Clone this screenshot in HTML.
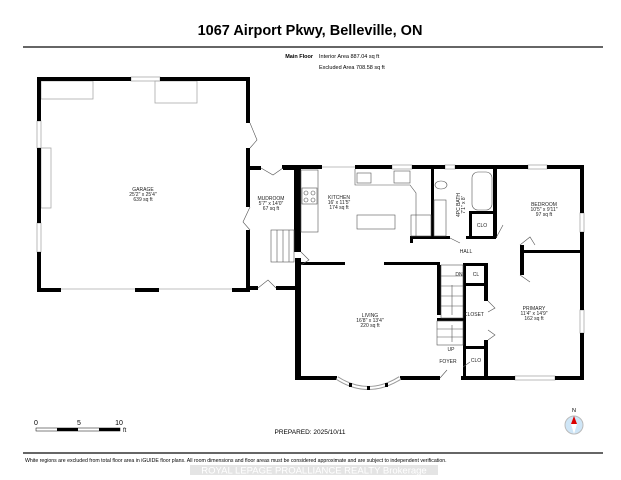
<!DOCTYPE html>
<html><head><meta charset="utf-8"><style>
html,body{margin:0;padding:0;background:#fff;}
svg{display:block;font-family:"Liberation Sans",sans-serif;}
.l{font-size:5px;text-anchor:middle;fill:#222;}
</style></head><body>
<svg width="621" height="480" viewBox="0 0 621 480" xmlns="http://www.w3.org/2000/svg">
<text x="310" y="35" text-anchor="middle" font-size="14.5" font-weight="bold">1067 Airport Pkwy, Belleville, ON</text>
<rect x="23" y="46" width="580" height="2" fill="#666"/>
<text x="313" y="58" font-size="5.5" font-weight="bold" text-anchor="end">Main Floor</text>
<text x="319" y="58" font-size="5.5">Interior Area 887.04 sq ft</text>
<text x="319" y="69" font-size="5.5">Excluded Area 708.58 sq ft</text>

<g fill="none" stroke="#aaa" stroke-width="0.8">
<rect x="131" y="77" width="29" height="4"/>
<rect x="37" y="121" width="4" height="27"/>
<rect x="37" y="223" width="4" height="29"/>
<rect x="41" y="81" width="52" height="18"/>
<rect x="155" y="81" width="42" height="22"/>
<rect x="41" y="148" width="10" height="60"/>
<line x1="61" y1="289" x2="232" y2="289"/>
<rect x="392" y="165" width="20" height="4"/>
<rect x="445" y="165" width="10" height="4"/>
<rect x="528" y="165" width="19" height="4"/>
<rect x="580" y="213" width="4" height="19"/>
<rect x="580" y="310" width="4" height="23"/>
<rect x="515" y="376" width="40" height="4"/>
<line x1="322" y1="167" x2="355" y2="167"/>
</g>
<g fill="#000">
<rect x="37" y="77" width="94" height="4"/><rect x="160" y="77" width="90" height="4"/>
<rect x="37" y="77" width="4" height="44"/><rect x="37" y="148" width="4" height="75"/><rect x="37" y="252" width="4" height="40"/>
<rect x="246" y="77" width="4" height="46"/><rect x="246" y="148" width="4" height="59"/><rect x="246" y="230" width="4" height="62"/>
<rect x="37" y="288" width="24" height="4"/><rect x="135" y="288" width="24" height="4"/><rect x="232" y="288" width="18" height="4"/>
<rect x="250" y="166" width="11" height="4"/><rect x="283" y="166" width="17" height="4"/>
<rect x="294" y="166" width="7" height="86"/><rect x="295" y="258" width="6" height="122"/>
<rect x="250" y="286" width="8" height="4"/><rect x="276" y="286" width="20" height="4"/>
<rect x="282" y="165" width="40" height="4"/><rect x="355" y="165" width="37" height="4"/><rect x="412" y="165" width="33" height="4"/><rect x="455" y="165" width="73" height="4"/><rect x="547" y="165" width="37" height="4"/>
<rect x="580" y="165" width="4" height="48"/><rect x="580" y="232" width="4" height="78"/><rect x="580" y="333" width="4" height="47"/>
<rect x="297" y="376" width="40" height="4"/><rect x="400" y="376" width="40" height="4"/><rect x="461" y="376" width="54" height="4"/><rect x="555" y="376" width="29" height="4"/>
<rect x="297" y="262" width="48" height="3"/><rect x="384" y="262" width="56" height="3"/>
<rect x="431" y="165" width="3" height="73"/><rect x="411" y="236" width="39" height="3"/><rect x="410" y="236" width="3" height="7"/>
<rect x="469" y="211" width="3" height="27"/><rect x="469" y="211" width="28" height="3"/><rect x="466" y="236" width="30" height="3"/>
<rect x="493" y="165" width="4" height="73"/>
<rect x="523" y="250" width="60" height="3"/><rect x="520" y="245" width="4" height="30"/>
<rect x="437" y="265" width="4" height="50"/><rect x="463" y="263" width="3" height="117"/>
<rect x="463" y="263" width="24" height="3"/><rect x="466" y="283" width="20" height="3"/>
<rect x="484" y="263" width="4" height="38"/><rect x="484" y="340" width="4" height="40"/>
<rect x="466" y="346" width="20" height="3"/>
<rect x="437" y="318" width="29" height="3"/>
</g>
<path d="M337 378 Q368 398 400 378" fill="none" stroke="#999" stroke-width="4"/>
<path d="M337 378 Q368 398 400 378" fill="none" stroke="#fff" stroke-width="2"/>
<rect x="349" y="383" width="3" height="4"/><rect x="367" y="386" width="3" height="4"/><rect x="385" y="383" width="3" height="4"/>
<g fill="none" stroke="#555" stroke-width="0.6">
<rect x="271" y="230" width="23" height="32"/>
<line x1="277" y1="230" x2="277" y2="262"/><line x1="283" y1="230" x2="283" y2="262"/><line x1="289" y1="230" x2="289" y2="262"/>
<rect x="441" y="265" width="22" height="53"/>
<line x1="441" y1="276" x2="463" y2="276"/><line x1="441" y1="286" x2="463" y2="286"/><line x1="441" y1="296" x2="463" y2="296"/><line x1="441" y1="306" x2="463" y2="306"/>
<rect x="437" y="321" width="26" height="24"/>
<line x1="437" y1="329" x2="463" y2="329"/><line x1="437" y1="337" x2="463" y2="337"/>
<line x1="452" y1="285" x2="452" y2="315"/><line x1="452" y1="325" x2="452" y2="342"/>
<rect x="301" y="170" width="17" height="62"/>
<rect x="302" y="188" width="15" height="16"/>
<circle cx="306" cy="193" r="2"/><circle cx="313" cy="193" r="2"/><circle cx="306" cy="200" r="2"/><circle cx="313" cy="200" r="2"/>
<path d="M355 169 V185 H410 L416 193 V236"/>
<rect x="357" y="173" width="14" height="10"/><rect x="394" y="171" width="16" height="12"/>
<rect x="357" y="215" width="38" height="14"/>
<rect x="411" y="215" width="20" height="21"/>
<rect x="434" y="200" width="12" height="36"/>
<ellipse cx="441" cy="185" rx="6" ry="4"/>
<rect x="472" y="172" width="20" height="38" rx="6"/>
<path d="M250 123 L257 140 L250 148"/><path d="M250 207 L243 222 L250 230"/>
<path d="M261 168 L273 175 L283 168"/><path d="M258 288 L268 280 L276 288"/>
<path d="M301 252 L309 260 L301 265"/>
<path d="M440 378 L447 370"/><path d="M450 238 L460 243"/><path d="M496 238 L503 225"/>
<path d="M520 245 L530 237 L535 245"/><path d="M520 275 L530 282"/>
<path d="M488 301 L495 308 L488 312"/><path d="M488 330 L495 335 L488 340"/>
<path d="M463 367 L470 362"/>
</g>
<text class="l" x="143" y="191">GARAGE</text>
<text class="l" x="143" y="196">25'2" x 25'4"</text>
<text class="l" x="143" y="201">639 sq ft</text>
<text class="l" x="271" y="200">MUDROOM</text>
<text class="l" x="271" y="205">5'7" x 14'0"</text>
<text class="l" x="271" y="210">67 sq ft</text>
<text class="l" x="339" y="199">KITCHEN</text>
<text class="l" x="339" y="204">16' x 11'5"</text>
<text class="l" x="339" y="209">174 sq ft</text>
<text class="l" x="460" y="205" transform="rotate(-90 460 205)">4PC BATH</text>
<text class="l" x="465" y="205" transform="rotate(-90 465 205)">7'1" x 8'</text>
<text class="l" x="544" y="206">BEDROOM</text>
<text class="l" x="544" y="211">10'5" x 9'11"</text>
<text class="l" x="544" y="216">97 sq ft</text>
<text class="l" x="482" y="227">CLO</text>
<text class="l" x="466" y="253">HALL</text>
<text class="l" x="476" y="276">CL</text>
<text class="l" x="459" y="276">DN</text>
<text class="l" x="370" y="317">LIVING</text>
<text class="l" x="370" y="322">16'8" x 13'4"</text>
<text class="l" x="370" y="327">220 sq ft</text>
<text class="l" x="474" y="316" font-size="4">CLOSET</text>
<text class="l" x="534" y="310">PRIMARY</text>
<text class="l" x="534" y="315">11'4" x 14'9"</text>
<text class="l" x="534" y="320">162 sq ft</text>
<text class="l" x="451" y="351">UP</text>
<text class="l" x="448" y="363">FOYER</text>
<text class="l" x="476" y="362">CLO</text>

<text x="36" y="425" font-size="7" text-anchor="middle">0</text>
<text x="79" y="425" font-size="7" text-anchor="middle">5</text>
<text x="119" y="425" font-size="7" text-anchor="middle">10</text>
<text x="123" y="432" font-size="6">ft</text>
<rect x="36" y="428" width="84" height="3" fill="#fff" stroke="#000" stroke-width="0.5"/>
<rect x="57" y="428" width="21" height="3"/><rect x="99" y="428" width="21" height="3"/>
<text x="310" y="434" font-size="6.5" text-anchor="middle">PREPARED: 2025/10/11</text>
<text x="574" y="412" font-size="5.5" text-anchor="middle">N</text>
<circle cx="574" cy="425" r="9" fill="#cfe6f7" stroke="#bbb" stroke-width="1"/>
<path d="M574 416 L577 424 L571 424 Z" fill="#d00"/>
<path d="M574 434 L577 424 L571 424 Z" fill="#fff"/>
<rect x="23" y="452" width="580" height="2" fill="#666"/>
<text x="25" y="462" font-size="5.2">White regions are excluded from total floor area in iGUIDE floor plans. All room dimensions and floor areas must be considered approximate and are subject to independent verification.</text>
<rect x="190" y="465" width="248" height="10" fill="#e4e4e4"/>
<text x="314" y="473.5" font-size="9.5" text-anchor="middle" fill="#fff">ROYAL LEPAGE PROALLIANCE REALTY Brokerage</text>
</svg>
</body></html>
